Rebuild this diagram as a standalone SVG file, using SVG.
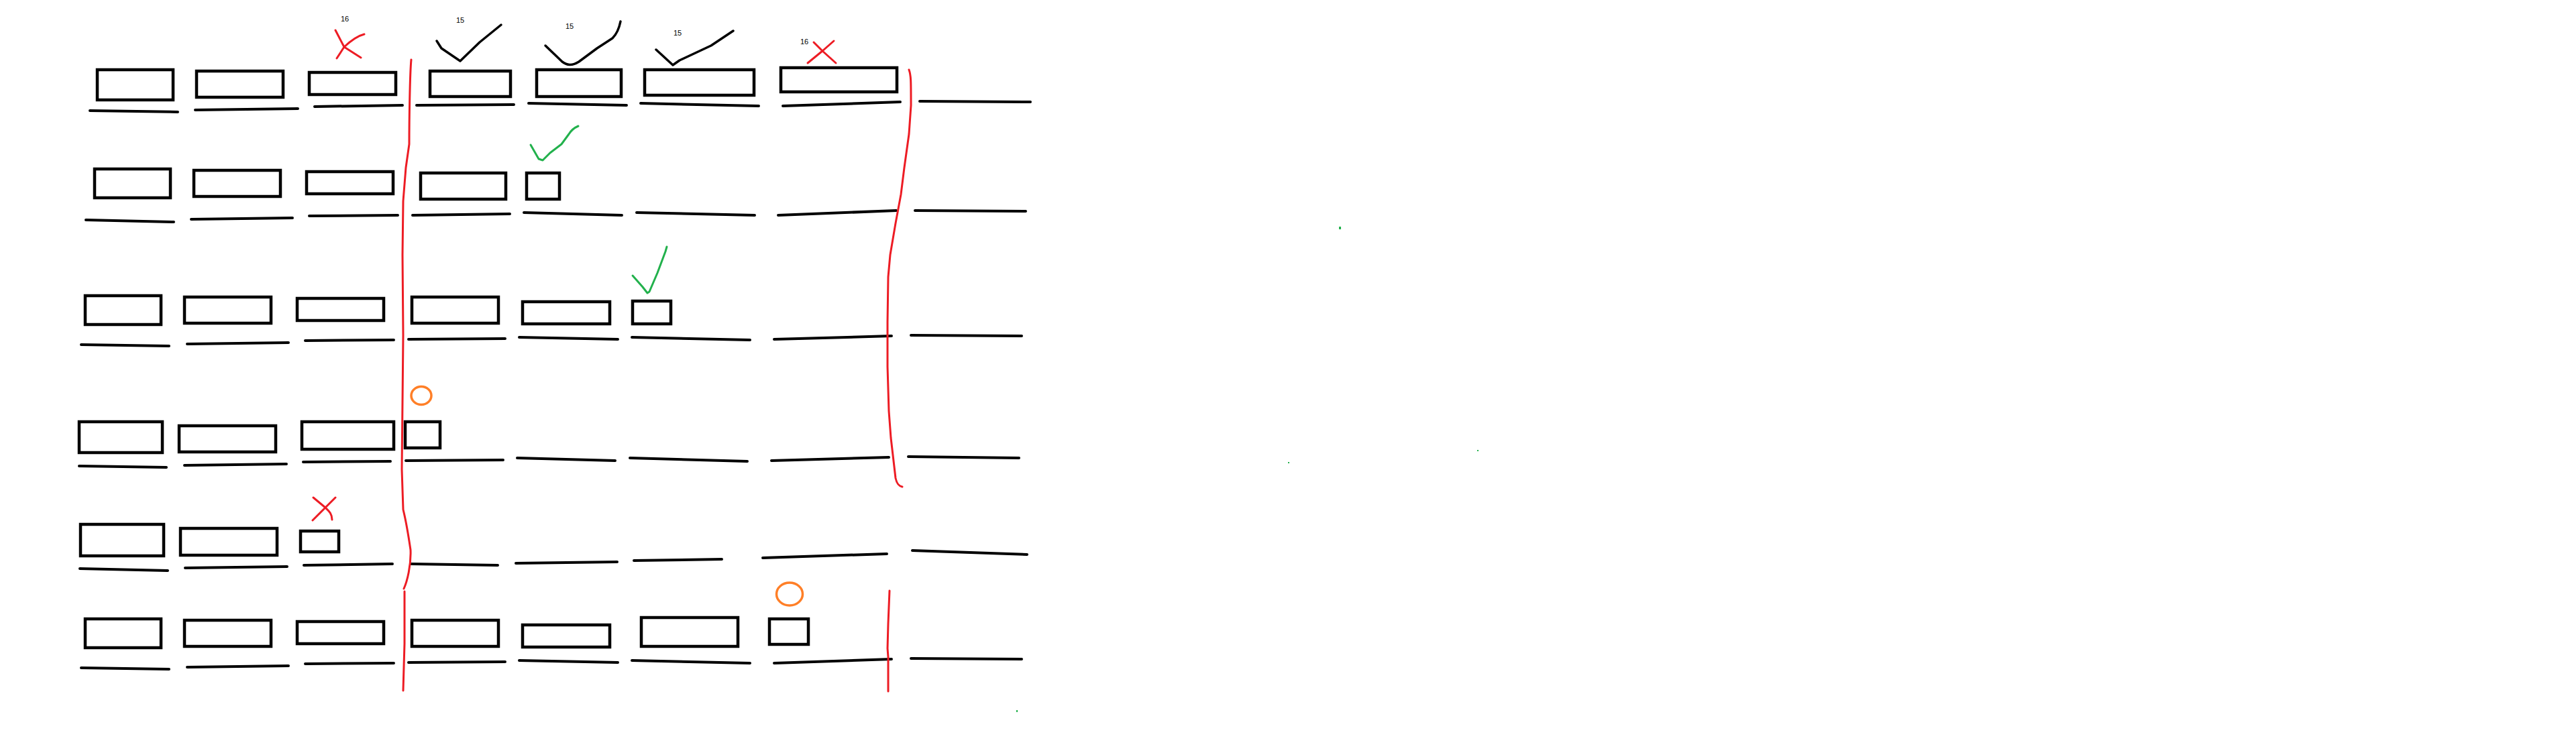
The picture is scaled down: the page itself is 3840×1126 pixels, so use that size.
<svg xmlns="http://www.w3.org/2000/svg" width="3840" height="1126" viewBox="0 0 3840 1126">
<style>
.box{fill:none;stroke:#000;stroke-width:4.5}
.ul{stroke:#000;stroke-width:4;stroke-linecap:round;fill:none}
.red{fill:none;stroke:#ED1C24;stroke-width:3;stroke-linecap:round;stroke-linejoin:round}
.grn{fill:none;stroke:#22B14C;stroke-width:3;stroke-linecap:round;stroke-linejoin:round}
.blk{fill:none;stroke:#000;stroke-width:3.5;stroke-linecap:round;stroke-linejoin:round}
.org{fill:none;stroke:#FF7F27;stroke-width:3.5}
.num{font-family:"Liberation Sans","Open Sans",sans-serif;font-size:11px;fill:#000;text-anchor:middle}
.dot{fill:#22B14C}
</style>
<rect width="3840" height="1126" fill="#fff"/>
<g id="row1">
<rect class="box" x="145" y="104" width="113" height="45"/>
<rect class="box" x="293" y="106" width="129" height="39"/>
<rect class="box" x="461" y="108" width="129" height="33"/>
<rect class="box" x="641" y="106" width="120" height="38"/>
<rect class="box" x="800" y="104" width="126" height="40"/>
<rect class="box" x="961" y="104" width="163" height="38"/>
<rect class="box" x="1164" y="101" width="173" height="36"/>
</g>
<g id="row2">
<rect class="box" x="141" y="252" width="113" height="43"/>
<rect class="box" x="289" y="254" width="129" height="39"/>
<rect class="box" x="457" y="256" width="129" height="33"/>
<rect class="box" x="627" y="258" width="127" height="39"/>
<rect class="box" x="785" y="258" width="49" height="39"/>
</g>
<g id="row3">
<rect class="box" x="127" y="441" width="113" height="43"/>
<rect class="box" x="275" y="443" width="129" height="39"/>
<rect class="box" x="443" y="445" width="129" height="33"/>
<rect class="box" x="614" y="443" width="129" height="39"/>
<rect class="box" x="779" y="450" width="130" height="33"/>
<rect class="box" x="943" y="449" width="57" height="34"/>
</g>
<g id="row4">
<rect class="box" x="118" y="629" width="124" height="46"/>
<rect class="box" x="267" y="635" width="144" height="39"/>
<rect class="box" x="450" y="629" width="137" height="41"/>
<rect class="box" x="604" y="629" width="52" height="39"/>
</g>
<g id="row5">
<rect class="box" x="120" y="782" width="124" height="47"/>
<rect class="box" x="269" y="788" width="144" height="40"/>
<rect class="box" x="448" y="792" width="57" height="31"/>
</g>
<g id="row6">
<rect class="box" x="127" y="923" width="113" height="43"/>
<rect class="box" x="275" y="925" width="129" height="39"/>
<rect class="box" x="443" y="927" width="129" height="33"/>
<rect class="box" x="614" y="925" width="129" height="39"/>
<rect class="box" x="779" y="932" width="130" height="33"/>
<rect class="box" x="956" y="921" width="144" height="43"/>
<rect class="box" x="1147" y="923" width="58" height="38"/>
</g>
<g id="underlines">
<path class="ul" d="M134,165L265,167M291,164L444,162M469,159L600,157M621,157L766,156M788,154L934,157M955,154L1131,158M1167,158L1342,152M1371,151L1536,152"/>
<path class="ul" d="M128,328L259,331M285,327L436,325M461,322L593,321M615,321L760,319M781,317L927,321M949,317L1125,321M1160,321L1336,314M1364,314L1529,315"/>
<path class="ul" d="M121,514L252,516M279,513L430,511M455,508L587,507M609,506L753,505M774,503L921,506M942,503L1118,507M1154,506L1329,501M1358,500L1523,501"/>
<path class="ul" d="M118,695L248,697M275,694L427,692M452,689L582,688M605,687L750,686M771,683L917,687M939,683L1114,688M1150,687L1325,682M1354,681L1519,683"/>
<path class="ul" d="M119,848L250,851M276,847L428,845M453,843L585,841M613,841L742,843M769,840L920,838M945,836L1076,834M1137,832L1322,826M1360,821L1531,827"/>
<path class="ul" d="M121,996L252,998M279,995L430,993M455,990L587,989M609,988L753,987M774,985L921,988M942,985L1118,989M1154,989L1329,983M1358,982L1523,983"/>
</g>
<g id="dividers">
<path class="red" d="M613,89C611,110 610,180 610,215L605,250L601,300L600,380L601,500L600,600L599,700L601,760C606,780 608,793 612,820C613,843 607,867 602,878"/>
<path class="red" d="M603,882L603,960L601,1030"/>
<path class="red" d="M1355,104C1358,112 1358,120 1358,157L1355,200L1348,250L1343,290L1335,333L1327,380L1324,413L1323,480L1323,547L1325,613L1328,653L1335,713C1337,722 1340,725 1345,726"/>
<path class="red" d="M1326,881L1324,930L1323,967L1324,980L1324,1031"/>
</g>
<g id="marks">
<text class="num" x="514" y="32">16</text>
<text class="num" x="686" y="34">15</text>
<text class="num" x="849" y="43">15</text>
<text class="num" x="1010" y="53">15</text>
<text class="num" x="1199" y="66">16</text>
<path class="red" d="M500,45L513,70L538,86M543,51C535,53 527,57 513,70L502,87"/>
<path class="red" d="M1213,63L1226,76L1246,94M1243,61L1226,76L1204,94"/>
<path class="red" d="M467,742L485,757C490,762 495,766 495,775M500,742L485,757L466,776"/>
<path class="blk" d="M651,61L658,72L686,91L715,63L747,37"/>
<path class="blk" d="M813,68L838,92C845,97 852,99 863,92L890,72L913,57C920,50 923,42 925,32"/>
<path class="blk" d="M978,74L1003,97L1013,90L1060,68L1093,46"/>
<path class="grn" d="M791,216L803,237L809,239L820,228L837,215L848,200C851,195 855,191 862,188"/>
<path class="grn" d="M943,411L958,428L965,437L968,435L980,407L992,375L994,368"/>
<ellipse class="org" cx="628" cy="590" rx="15" ry="13.5"/>
<ellipse class="org" cx="1177" cy="886" rx="19.5" ry="17"/>
<rect class="dot" x="1996" y="338" width="3" height="4"/>
<rect class="dot" x="1920" y="689" width="2" height="2"/>
<rect class="dot" x="1515" y="1059" width="2" height="3"/>
<rect class="dot" x="2202" y="671" width="2" height="2"/>
</g>
</svg>
